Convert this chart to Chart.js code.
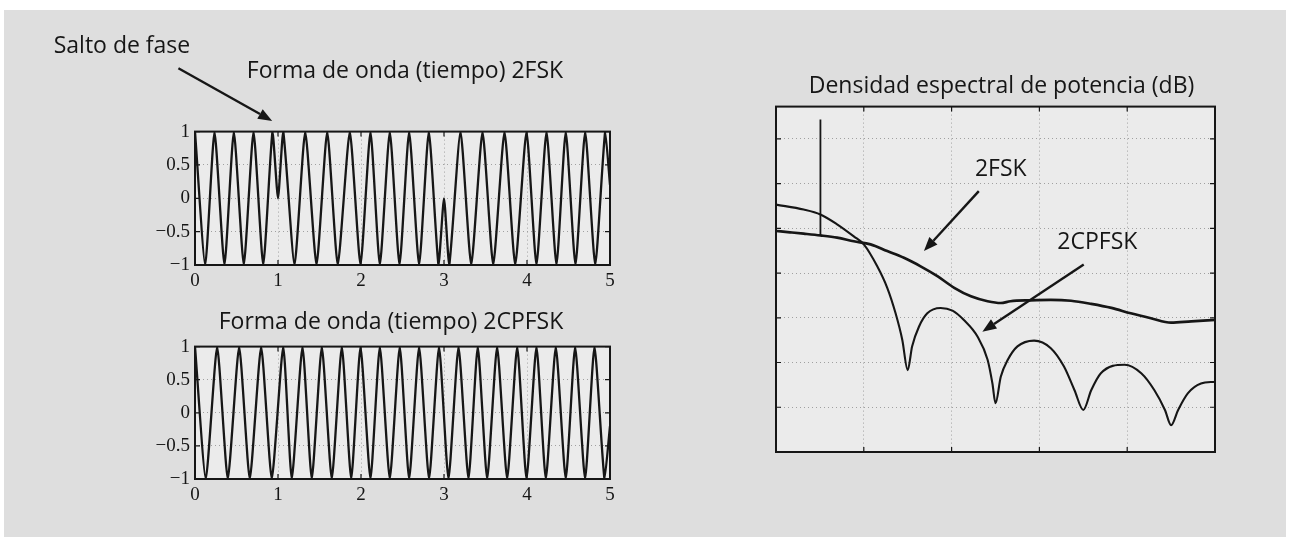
<!DOCTYPE html>
<html lang="es">
<head>
<meta charset="utf-8">
<title>2FSK vs 2CPFSK</title>
<script src="https://cdn.jsdelivr.net/npm/chart.js"></script>
<style>
  html, body { margin: 0; padding: 0; background: #fff; }
  #pagina { position: relative; width: 1290px; height: 545px; overflow: hidden; }
  #panel { position: absolute; left: 4px; top: 10px; width: 1282px; height: 527px; background: #dedede; }
  canvas { position: absolute; left: 0; top: 0; }
</style>
</head>
<body>
<div id="pagina">
  <div id="panel"></div>
  <canvas id="onda2fsk" width="1290" height="545"></canvas>
  <canvas id="onda2cpfsk" width="1290" height="545"></canvas>
  <canvas id="densidad" width="1290" height="545"></canvas>
</div>
<script>
// Forma de onda 2FSK: extremos (tiempo en bits)
const tiempo2FSK = [0, 0.123, 0.235, 0.355, 0.468, 0.588, 0.705, 0.822, 0.934, 1.0,
  1.063, 1.199, 1.328, 1.464, 1.593, 1.72, 1.865, 1.994, 2.114, 2.227,
  2.347, 2.464, 2.58, 2.70, 2.817, 2.934, 3.0, 3.063, 3.199, 3.328,
  3.464, 3.593, 3.729, 3.858, 3.994, 4.114, 4.235, 4.355, 4.467, 4.584,
  4.701, 4.822, 4.942, 5.0];
const amplitud2FSK = [1, -1, 1, -1, 1, -1, 1, -1, 1, 0,
  1, -1, 1, -1, 1, -1, 1, -1, 1, -1,
  1, -1, 1, -1, 1, -1, 0, -1, 1, -1,
  1, -1, 1, -1, 1, -1, 1, -1, 1, -1,
  1, -1, 1, 0.2];

// Forma de onda 2CPFSK (fase continua)
const tiempo2CPFSK = [0, 0.13, 0.267, 0.395, 0.532, 0.66, 0.797, 0.925, 1.063, 1.166,
  1.295, 1.407, 1.528, 1.648, 1.769, 1.882, 1.994, 2.114, 2.227, 2.347,
  2.467, 2.58, 2.70, 2.82, 2.94, 3.054, 3.175, 3.295, 3.407, 3.52,
  3.64, 3.761, 3.882, 3.994, 4.114, 4.227, 4.347, 4.467, 4.58, 4.70,
  4.813, 4.934, 5.0];
const amplitud2CPFSK = [1, -1, 1, -1, 1, -1, 1, -1, 1, -1,
  1, -1, 1, -1, 1, -1, 1, -1, 1, -1,
  1, -1, 1, -1, 1, -1, 1, -1, 1, -1,
  1, -1, 1, -1, 1, -1, 1, -1, 1, -1,
  1, -1, -0.2];

// Densidad espectral (dB, escala relativa sin rotulos)
const frec2FSK = [0, 0.16, 0.315, 0.506, 0.696, 0.886, 1.077, 1.267, 1.457, 1.647,
  1.838, 2.03, 2.22, 2.41, 2.56, 2.67, 2.90, 3.13, 3.36, 3.59,
  3.82, 4.04, 4.27, 4.50, 4.73, 5.0];
const dens2FSK = [49.4, 49.1, 48.8, 48.4, 47.9, 47.1, 46.4, 44.9, 43.4, 41.5,
  39.3, 36.7, 34.8, 33.7, 33.3, 33.7, 33.9, 34.0, 33.8, 33.1,
  32.2, 31.0, 29.9, 28.9, 29.2, 29.5];
// raya espectral discreta de la 2FSK
const frecRaya = [0.506, 0.506];
const densRaya = [48.4, 74.3];

const frec2CPFSK = [0, 0.315, 0.506, 0.696, 0.886, 1.0, 1.153, 1.267, 1.362, 1.438,
  1.50, 1.55, 1.628, 1.723, 1.875, 2.01, 2.14, 2.295, 2.41, 2.465,
  2.50, 2.56, 2.64, 2.75, 2.94, 3.13, 3.28, 3.40, 3.50, 3.59,
  3.70, 3.97, 4.16, 4.31, 4.43, 4.50, 4.58, 4.69, 4.84, 5.0];
const dens2CPFSK = [55.3, 54.2, 53.1, 50.9, 48.2, 46.4, 41.5, 36.7, 31.0, 25.1,
  18.3, 23.6, 28.0, 31.0, 32.2, 31.6, 29.5, 25.8, 20.6, 15.3,
  10.9, 16.8, 20.6, 23.6, 24.9, 23.2, 19.1, 13.8, 9.4, 13.8,
  17.6, 19.5, 17.6, 13.8, 9.4, 6.0, 9.4, 13.1, 15.3, 15.7];

// marcas de los ejes
const ticksTiempo = [0, 1, 2, 3, 4, 5];
const ticksAmplitud = [-1, -0.5, 0, 0.5, 1];
const ticksFrec = [0, 1, 2, 3, 4, 5];
const ticksDens = [0, 10, 20, 30, 40, 50, 60, 70];

const titulos = [
  "Forma de onda (tiempo) 2FSK",
  "Forma de onda (tiempo) 2CPFSK",
  "Densidad espectral de potencia (dB)"
];

const fuenteTexto = { family: "'Open Sans', 'Noto Sans', sans-serif", size: 23, weight: 'normal' };
const fuenteEjes = { family: "'Liberation Serif', 'DejaVu Serif', serif", size: 19 };
const negro = '#161616';

const puntos = (xs, ys) => xs.map((x, i) => ({ x: x, y: ys[i] }));
const fijarTicks = lista => scale => { scale.ticks = lista.map(v => ({ value: v })); };
const menos = v => (v < 0 ? '\u2212' + Math.abs(v) : String(v));

// fondo del area, recuadro, ticks hacia dentro, textos y flechas (estilo MATLAB)
const marcoMatlab = {
  id: 'marco',
  beforeDraw(chart, args, opts) {
    const { ctx, chartArea: a } = chart;
    ctx.save();
    ctx.fillStyle = '#ebebeb';
    ctx.fillRect(a.left, a.top, a.right - a.left, a.bottom - a.top);
    ctx.restore();
  },
  afterDraw(chart, args, opts) {
    const { ctx, chartArea: a, scales } = chart;
    ctx.save();
    ctx.strokeStyle = negro;
    ctx.lineWidth = 1.2;
    ctx.beginPath();
    scales.x.ticks.forEach(t => {
      const px = scales.x.getPixelForValue(t.value);
      ctx.moveTo(px, a.bottom); ctx.lineTo(px, a.bottom - 5);
      ctx.moveTo(px, a.top); ctx.lineTo(px, a.top + 5);
    });
    scales.y.ticks.forEach(t => {
      const py = scales.y.getPixelForValue(t.value);
      ctx.moveTo(a.left, py); ctx.lineTo(a.left + 5, py);
      ctx.moveTo(a.right, py); ctx.lineTo(a.right - 5, py);
    });
    ctx.stroke();
    ctx.lineWidth = 2;
    ctx.strokeRect(a.left, a.top, a.right - a.left, a.bottom - a.top);

    ctx.fillStyle = negro;
    ctx.font = fuenteTexto.size + 'px ' + fuenteTexto.family;
    ctx.textAlign = 'center';
    ctx.textBaseline = 'middle';
    (opts.textos || []).forEach(n => {
      ctx.fillText(n.texto, scales.x.getPixelForValue(n.x), scales.y.getPixelForValue(n.y));
    });

    (opts.flechas || []).forEach(f => {
      const x0 = scales.x.getPixelForValue(f.desde[0]), y0 = scales.y.getPixelForValue(f.desde[1]);
      const x1 = scales.x.getPixelForValue(f.hasta[0]), y1 = scales.y.getPixelForValue(f.hasta[1]);
      const ang = Math.atan2(y1 - y0, x1 - x0);
      const largo = 14, ancho = 5.5;
      const bx = x1 - largo * Math.cos(ang), by = y1 - largo * Math.sin(ang);
      ctx.lineWidth = 2.4;
      ctx.beginPath();
      ctx.moveTo(x0, y0); ctx.lineTo(bx, by);
      ctx.stroke();
      ctx.beginPath();
      ctx.moveTo(x1, y1);
      ctx.lineTo(bx + ancho * Math.sin(ang), by - ancho * Math.cos(ang));
      ctx.lineTo(bx - ancho * Math.sin(ang), by + ancho * Math.cos(ang));
      ctx.closePath();
      ctx.fill();
    });
    ctx.restore();
  }
};

const rejilla = { color: '#a0a0a0', lineWidth: 1, drawTicks: false };
const bordeRejilla = { display: false, dash: [1, 3] };

function crearOnda(id, tiempos, valores, cfg) {
  return new Chart(document.getElementById(id), {
    type: 'line',
    data: {
      datasets: [{
        data: puntos(tiempos, valores),
        borderColor: negro,
        borderWidth: 2.3,
        pointRadius: 0,
        tension: 0.18,
        yAxisID: 'y'
      }]
    },
    options: {
      responsive: false,
      animation: false,
      events: [],
      layout: { padding: cfg.padding },
      plugins: {
        legend: { display: false },
        tooltip: { enabled: false },
        title: { display: true, text: cfg.titulo, color: negro, font: fuenteTexto, padding: cfg.tituloPad },
        marco: { textos: cfg.textos, flechas: cfg.flechas }
      },
      scales: {
        x: {
          type: 'linear', min: 0, max: 5,
          afterBuildTicks: fijarTicks(ticksTiempo),
          afterFit: s => { s.height = 30; },
          ticks: { font: fuenteEjes, color: negro, padding: 5, maxRotation: 0, autoSkip: false },
          grid: rejilla, border: bordeRejilla
        },
        y: {
          type: 'linear', min: -1, max: 1,
          afterBuildTicks: fijarTicks(ticksAmplitud),
          afterFit: s => { s.width = 50; },
          ticks: { font: fuenteEjes, color: negro, padding: 5, callback: menos, autoSkip: false },
          grid: rejilla, border: bordeRejilla
        },
        yR: {
          type: 'linear', position: 'right', display: true, min: 0, max: 1,
          afterFit: s => { s.width = cfg.anchoDer; },
          ticks: { display: false }, grid: { display: false }, border: { display: false }
        }
      }
    },
    plugins: [marcoMatlab]
  });
}

crearOnda('onda2fsk', tiempo2FSK, amplitud2FSK, {
  titulo: titulos[0],
  padding: { left: 145, right: 625, top: 58, bottom: 250 },
  tituloPad: { top: 0, bottom: 46 },
  anchoDer: 55,
  textos: [{ texto: 'Salto de fase', x: -0.88, y: 2.28 }],
  flechas: [{ desde: [-0.2, 1.95], hasta: [0.93, 1.16] }]
});

crearOnda('onda2cpfsk', tiempo2CPFSK, amplitud2CPFSK, {
  titulo: titulos[1],
  padding: { left: 145, right: 653, top: 309, bottom: 36 },
  tituloPad: { top: 0, bottom: 10 },
  anchoDer: 27,
  textos: [],
  flechas: []
});

new Chart(document.getElementById('densidad'), {
  type: 'line',
  data: {
    datasets: [
      { label: '2FSK', data: puntos(frec2FSK, dens2FSK), borderColor: negro, borderWidth: 2.7,
        pointRadius: 0, cubicInterpolationMode: 'monotone', yAxisID: 'y' },
      { label: '2FSK raya', data: puntos(frecRaya, densRaya), borderColor: negro, borderWidth: 1.8,
        pointRadius: 0, tension: 0, yAxisID: 'y' },
      { label: '2CPFSK', data: puntos(frec2CPFSK, dens2CPFSK), borderColor: negro, borderWidth: 2.1,
        pointRadius: 0, cubicInterpolationMode: 'monotone', yAxisID: 'y' }
    ]
  },
  options: {
    responsive: false,
    animation: false,
    events: [],
    layout: { padding: { left: 756, right: 43, top: 73, bottom: 83 } },
    plugins: {
      legend: { display: false },
      tooltip: { enabled: false },
      title: { display: true, text: titulos[2], color: negro, font: fuenteTexto, padding: { top: 0, bottom: 6 } },
      marco: {
        textos: [{ texto: '2FSK', x: 2.56, y: 63.2 }, { texto: '2CPFSK', x: 3.66, y: 46.9 }],
        flechas: [{ desde: [2.31, 58.3], hasta: [1.685, 44.9] }, { desde: [3.505, 41.9], hasta: [2.35, 26.9] }]
      }
    },
    scales: {
      x: {
        type: 'linear', min: 0, max: 5,
        afterBuildTicks: fijarTicks(ticksFrec),
        afterFit: s => { s.height = 10; },
        ticks: { display: false },
        grid: rejilla, border: bordeRejilla
      },
      y: {
        type: 'linear', min: 0, max: 77.2,
        afterBuildTicks: fijarTicks(ticksDens),
        afterFit: s => { s.width = 20; },
        ticks: { display: false },
        grid: rejilla, border: bordeRejilla
      },
      yR: {
        type: 'linear', position: 'right', display: true, min: 0, max: 1,
        afterFit: s => { s.width = 32; },
        ticks: { display: false }, grid: { display: false }, border: { display: false }
      }
    }
  },
  plugins: [marcoMatlab]
});
</script>
</body>
</html>
